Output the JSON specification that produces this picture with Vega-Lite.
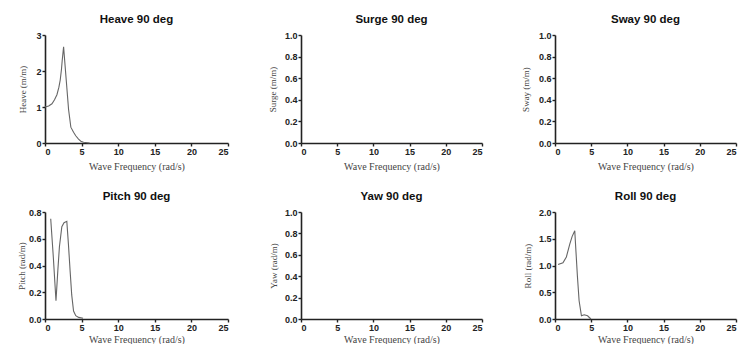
{
  "$schema": "https://vega.github.io/schema/vega-lite/v6.json",
  "padding": {"left": 17, "top": 13, "right": 5, "bottom": 0},
  "background": "white",
  "datasets": {
    "rao": [
      {"dof": "Heave", "f": 0.0, "v": 1.0},
      {"dof": "Heave", "f": 0.5, "v": 1.03},
      {"dof": "Heave", "f": 0.95, "v": 1.09},
      {"dof": "Heave", "f": 1.3, "v": 1.2},
      {"dof": "Heave", "f": 1.63, "v": 1.34},
      {"dof": "Heave", "f": 1.9, "v": 1.55},
      {"dof": "Heave", "f": 2.08, "v": 1.75},
      {"dof": "Heave", "f": 2.25, "v": 2.05},
      {"dof": "Heave", "f": 2.35, "v": 2.29},
      {"dof": "Heave", "f": 2.54, "v": 2.67},
      {"dof": "Heave", "f": 2.9, "v": 1.75},
      {"dof": "Heave", "f": 3.22, "v": 0.93},
      {"dof": "Heave", "f": 3.53, "v": 0.44},
      {"dof": "Heave", "f": 3.9, "v": 0.3},
      {"dof": "Heave", "f": 4.2, "v": 0.2},
      {"dof": "Heave", "f": 4.58, "v": 0.11},
      {"dof": "Heave", "f": 4.9, "v": 0.05},
      {"dof": "Heave", "f": 5.26, "v": 0.02},
      {"dof": "Heave", "f": 6.1, "v": 0.0},
      {"dof": "Pitch", "f": 0.78, "v": 0.75},
      {"dof": "Pitch", "f": 1.14, "v": 0.46},
      {"dof": "Pitch", "f": 1.5, "v": 0.137},
      {"dof": "Pitch", "f": 1.75, "v": 0.36},
      {"dof": "Pitch", "f": 1.97, "v": 0.54},
      {"dof": "Pitch", "f": 2.3, "v": 0.69},
      {"dof": "Pitch", "f": 2.6, "v": 0.72},
      {"dof": "Pitch", "f": 2.98, "v": 0.73},
      {"dof": "Pitch", "f": 3.2, "v": 0.56},
      {"dof": "Pitch", "f": 3.43, "v": 0.36},
      {"dof": "Pitch", "f": 3.65, "v": 0.18},
      {"dof": "Pitch", "f": 3.9, "v": 0.06},
      {"dof": "Pitch", "f": 4.2, "v": 0.025},
      {"dof": "Pitch", "f": 4.6, "v": 0.012},
      {"dof": "Pitch", "f": 5.2, "v": 0.005},
      {"dof": "Roll", "f": 0.42, "v": 1.02},
      {"dof": "Roll", "f": 1.1, "v": 1.05},
      {"dof": "Roll", "f": 1.57, "v": 1.16},
      {"dof": "Roll", "f": 2.04, "v": 1.4},
      {"dof": "Roll", "f": 2.36, "v": 1.54},
      {"dof": "Roll", "f": 2.73, "v": 1.65},
      {"dof": "Roll", "f": 2.9, "v": 1.25},
      {"dof": "Roll", "f": 3.1, "v": 0.79},
      {"dof": "Roll", "f": 3.33, "v": 0.34},
      {"dof": "Roll", "f": 3.65, "v": 0.06},
      {"dof": "Roll", "f": 4.03, "v": 0.08},
      {"dof": "Roll", "f": 4.5, "v": 0.06},
      {"dof": "Roll", "f": 4.96, "v": 0.0}
    ]
  },
  "concat": [
    {
      "title": {"text": "Heave 90 deg"},
      "width": 183, "height": 108,
      "data": {"name": "rao"},
      "transform": [{"filter": "datum.dof === 'Heave'"}],
      "mark": {"type": "line", "color": "#666", "strokeWidth": 1.1},
      "encoding": {
        "x": {"field": "f", "type": "quantitative", "scale": {"domain": [0, 25], "nice": false}, "axis": {"title": "Wave Frequency (rad/s)", "values": [0, 5, 10, 15, 20, 25], "titlePadding": 5}},
        "y": {"field": "v", "type": "quantitative", "scale": {"domain": [0, 3], "nice": false}, "axis": {"title": "Heave (m/m)", "values": [0, 1, 2, 3], "format": "d", "titlePadding": 8}}
      }
    },
    {
      "title": {"text": "Surge 90 deg"},
      "width": 181, "height": 108,
      "data": {"name": "rao"},
      "transform": [{"filter": "datum.dof === 'Surge'"}],
      "mark": {"type": "line", "color": "#666", "strokeWidth": 1.1},
      "encoding": {
        "x": {"field": "f", "type": "quantitative", "scale": {"domain": [0, 25], "nice": false}, "axis": {"title": "Wave Frequency (rad/s)", "values": [0, 5, 10, 15, 20, 25], "titlePadding": 5}},
        "y": {"field": "v", "type": "quantitative", "scale": {"domain": [0, 1], "nice": false}, "axis": {"title": "Surge (m/m)", "values": [0, 0.2, 0.4, 0.6, 0.8, 1.0], "format": ".1f", "titlePadding": 7}}
      }
    },
    {
      "title": {"text": "Sway 90 deg"},
      "width": 181, "height": 108,
      "data": {"name": "rao"},
      "transform": [{"filter": "datum.dof === 'Sway'"}],
      "mark": {"type": "line", "color": "#666", "strokeWidth": 1.1},
      "encoding": {
        "x": {"field": "f", "type": "quantitative", "scale": {"domain": [0, 25], "nice": false}, "axis": {"title": "Wave Frequency (rad/s)", "values": [0, 5, 10, 15, 20, 25], "titlePadding": 5}},
        "y": {"field": "v", "type": "quantitative", "scale": {"domain": [0, 1], "nice": false}, "axis": {"title": "Sway (m/m)", "values": [0, 0.2, 0.4, 0.6, 0.8, 1.0], "format": ".1f", "titlePadding": 8}}
      }
    },
    {
      "title": {"text": "Pitch 90 deg"},
      "width": 183, "height": 107,
      "data": {"name": "rao"},
      "transform": [{"filter": "datum.dof === 'Pitch'"}],
      "mark": {"type": "line", "color": "#666", "strokeWidth": 1.1},
      "encoding": {
        "x": {"field": "f", "type": "quantitative", "scale": {"domain": [0, 25], "nice": false}, "axis": {"title": "Wave Frequency (rad/s)", "values": [0, 5, 10, 15, 20, 25], "titlePadding": 2}},
        "y": {"field": "v", "type": "quantitative", "scale": {"domain": [0, 0.8], "nice": false}, "axis": {"title": "Pitch (rad/m)", "values": [0, 0.2, 0.4, 0.6, 0.8], "format": ".1f", "titlePadding": 2}}
      }
    },
    {
      "title": {"text": "Yaw 90 deg"},
      "width": 181, "height": 107,
      "data": {"name": "rao"},
      "transform": [{"filter": "datum.dof === 'Yaw'"}],
      "mark": {"type": "line", "color": "#666", "strokeWidth": 1.1},
      "encoding": {
        "x": {"field": "f", "type": "quantitative", "scale": {"domain": [0, 25], "nice": false}, "axis": {"title": "Wave Frequency (rad/s)", "values": [0, 5, 10, 15, 20, 25], "titlePadding": 2}},
        "y": {"field": "v", "type": "quantitative", "scale": {"domain": [0, 1], "nice": false}, "axis": {"title": "Yaw (rad/m)", "values": [0, 0.2, 0.4, 0.6, 0.8, 1.0], "format": ".1f", "titlePadding": 6}}
      }
    },
    {
      "title": {"text": "Roll 90 deg"},
      "width": 181, "height": 107,
      "data": {"name": "rao"},
      "transform": [{"filter": "datum.dof === 'Roll'"}],
      "mark": {"type": "line", "color": "#666", "strokeWidth": 1.1},
      "encoding": {
        "x": {"field": "f", "type": "quantitative", "scale": {"domain": [0, 25], "nice": false}, "axis": {"title": "Wave Frequency (rad/s)", "values": [0, 5, 10, 15, 20, 25], "titlePadding": 2}},
        "y": {"field": "v", "type": "quantitative", "scale": {"domain": [0, 2], "nice": false}, "axis": {"title": "Roll (rad/m)", "values": [0, 0.5, 1.0, 1.5, 2.0], "format": ".1f", "titlePadding": 6}}
      }
    }
  ],
  "columns": 3,
  "spacing": {"row": 69, "column": 73},
  "bounds": "flush",
  "config": {
    "view": {"stroke": null},
    "axis": {
      "grid": false,
      "domainColor": "#222",
      "domainWidth": 1.6,
      "tickColor": "#222",
      "tickWidth": 1.4,
      "tickSize": 3,
      "labelFont": "Liberation Sans",
      "labelFontWeight": "bold",
      "labelFontSize": 9,
      "labelColor": "#222",
      "labelPadding": 1,
      "titleFont": "Liberation Serif",
      "titleFontWeight": "normal",
      "titleColor": "#444"
    },
    "axisX": {"titleFontSize": 10},
    "axisY": {"titleFontSize": 9},
    "title": {"font": "Liberation Sans", "fontSize": 11.5, "fontWeight": "bold", "color": "#111", "offset": 6}
  }
}
